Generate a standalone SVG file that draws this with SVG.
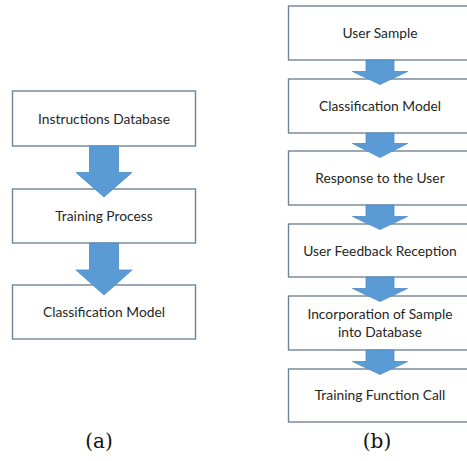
<svg xmlns="http://www.w3.org/2000/svg" width="467" height="461" viewBox="0 0 467 461">
<style>
.box{fill:#ffffff;stroke:#71839a;stroke-width:1.4}
.arr{fill:#5b9bd5;stroke:#4f8cc4;stroke-width:0.8}
.t{font-family:Lato,"Open Sans",sans-serif;font-size:13.8px;fill:#262626;text-anchor:middle}
.cap{font-family:"DejaVu Serif","Liberation Serif",serif;font-size:20px;fill:#111111;text-anchor:middle}
</style>
<rect width="467" height="461" fill="#ffffff"/>
<g id="a1"><rect class="box" x="12.5" y="91" width="183" height="55"/><text class="t" x="104" y="123.5">Instructions Database</text></g>
<g id="a2"><rect class="box" x="12.5" y="189" width="183" height="54"/><text class="t" x="104" y="221">Training Process</text></g>
<g id="a3"><rect class="box" x="12.5" y="285" width="183" height="54"/><text class="t" x="104" y="317">Classification Model</text></g>
<g id="b1"><rect class="box" x="288.5" y="6" width="184" height="54"/><text class="t" x="380" y="38">User Sample</text></g>
<g id="b2"><rect class="box" x="288.5" y="79" width="184" height="54"/><text class="t" x="380" y="111">Classification Model</text></g>
<g id="b3"><rect class="box" x="288.5" y="151" width="184" height="54"/><text class="t" x="380" y="183">Response to the User</text></g>
<g id="b4"><rect class="box" x="288.5" y="224" width="184" height="53"/><text class="t" x="380" y="256">User Feedback Reception</text></g>
<g id="b5"><rect class="box" x="288.5" y="296" width="184" height="54"/><text class="t" x="380" y="319">Incorporation of Sample</text><text class="t" x="380" y="337">into Database</text></g>
<g id="b6"><rect class="box" x="288.5" y="369" width="184" height="53"/><text class="t" x="380" y="400">Training Function Call</text></g>
<g id="connectors">
<path class="arr" d="M89.5,146 H118.5 V172.5 H132 L104,197 L76,172.5 H89.5 Z"/>
<path class="arr" d="M89.5,243 H118.5 V270 H132 L104,295 L76,270 H89.5 Z"/>
<path class="arr" d="M366,60 H394 V71.5 H407.5 L380,84.5 L352.5,71.5 H366 Z"/>
<path class="arr" d="M366,133 H394 V143.5 H407.5 L380,157.5 L352.5,143.5 H366 Z"/>
<path class="arr" d="M366,205 H394 V216.5 H407.5 L380,229.5 L352.5,216.5 H366 Z"/>
<path class="arr" d="M366,277 H394 V288.5 H407.5 L380,301.5 L352.5,288.5 H366 Z"/>
<path class="arr" d="M366,350 H394 V361.5 H407.5 L380,374.5 L352.5,361.5 H366 Z"/>
</g>
<text class="cap" x="99" y="448">(a)</text>
<text class="cap" x="377" y="448">(b)</text>
</svg>
